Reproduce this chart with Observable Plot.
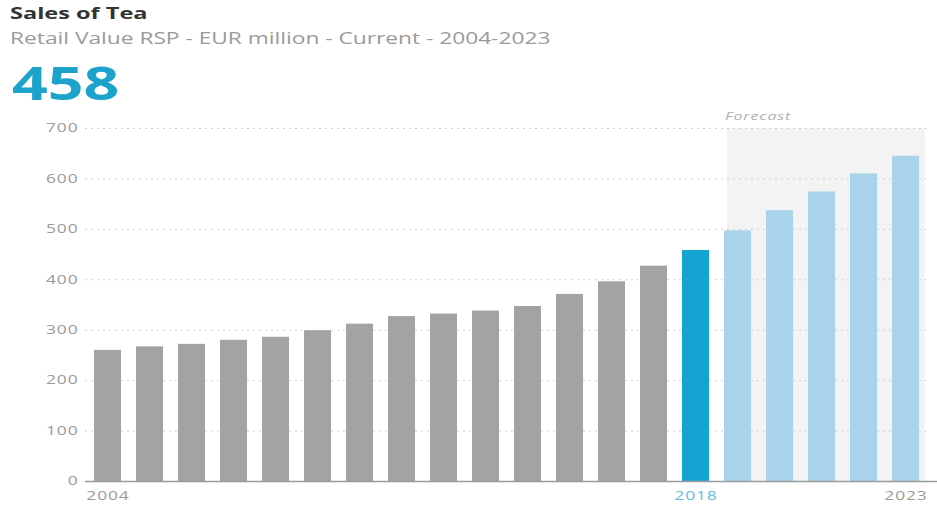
<!DOCTYPE html>
<html>
<head>
<meta charset="utf-8">
<script src="https://cdn.jsdelivr.net/npm/d3@7"></script>
<script src="https://cdn.jsdelivr.net/npm/@observablehq/plot@0.6"></script>
<style>
  html, body { margin: 0; padding: 0; background: #fff; }
  body { width: 937px; height: 509px; overflow: hidden; font-family: "Open Sans", sans-serif; }
  #header { position: relative; height: 100px; }
  #header div { position: absolute; white-space: nowrap; transform-origin: left top; }
  #title { left: 10px; top: 2px; font-size: 16px; font-weight: 700; color: #333; transform: scaleX(1.47); }
  #subtitle { left: 10px; top: 27px; font-size: 16px; color: #9a9a9a; transform: scaleX(1.42); }
  #big { left: 12px; top: 57px; font-size: 46px; font-weight: 700; color: #1ba3cb; transform: scaleX(1.36); line-height: 1.1; }
  #chart svg text { letter-spacing: 0.6px; }
</style>
</head>
<body>
<div id="header">
  <div id="title">Sales of Tea</div>
  <div id="subtitle">Retail Value RSP - EUR million - Current - 2004-2023</div>
  <div id="big">458</div>
</div>
<div id="chart"></div>
<script>
const years = ["2004","2005","2006","2007","2008","2009","2010","2011","2012","2013","2014","2015","2016","2017","2018","2019","2020","2021","2022","2023"];
const values = [260, 267, 272, 280, 286, 299, 312, 327, 332, 338, 347, 371, 396, 427, 458, 497, 537, 574, 610, 645];
const currentYear = "2018";
const forecastYears = ["2019","2020","2021","2022","2023"];
const yTicks = [0, 100, 200, 300, 400, 500, 600, 700];
const xTickLabels = ["2004", "2018", "2023"];
const forecastLabel = "Forecast";

const data = years.map((y, i) => ({
  year: y,
  value: values[i],
  kind: y === currentYear ? "current" : (forecastYears.includes(y) ? "forecast" : "historic")
}));
const colorOf = {historic: "#a1a3a5", current: "#14a4d2", forecast: "#a8d3ea"};
const lastYear = years[years.length - 1];

const chart = Plot.plot({
  width: 937,
  height: 409,
  marginTop: 28,
  marginBottom: 28,
  marginLeft: 85,
  marginRight: 8,
  style: {fontFamily: "Open Sans, sans-serif", fontSize: "12px", background: "#fff", overflow: "visible"},
  x: {type: "band", domain: years, paddingInner: 0.35, paddingOuter: 0.175, axis: null},
  y: {domain: [0, 700], axis: null},
  marks: [
    Plot.barY(forecastYears.filter(y => y !== lastYear).map(y => ({year: y})), {
      x: "year", y1: 0, y2: 700, fill: "#f3f3f3", insetLeft: 3, insetRight: -19
    }),
    Plot.barY([{year: lastYear}], {
      x: "year", y1: 0, y2: 700, fill: "#f3f3f3", insetLeft: 3, insetRight: -6
    }),
    Plot.gridY(yTicks.filter(t => t > 0), {stroke: "#d0d0d0", strokeOpacity: 1, strokeDasharray: "2,4"}),
    Plot.axisY(yTicks, {tickSize: 0, tickPadding: 7, fill: "#9a9a9a", label: null, fontSize: 12}),
    Plot.barY(data, {x: "year", y: "value", fill: d => colorOf[d.kind]}),
    Plot.ruleY([0], {stroke: "#9a9a9a", strokeWidth: 1.5, insetRight: -8}),
    Plot.text(xTickLabels, {
      x: d => d, y: 0, dy: 15, fill: d => d === currentYear ? "#5bbfdc" : "#9a9a9a", fontSize: 12
    }),
    Plot.text([forecastYears[0]], {
      x: d => d, y: 700, dy: -12, dx: -13, textAnchor: "start", text: () => forecastLabel,
      fill: "#b0b0b0", fontStyle: "italic", fontSize: 11
    })
  ]
});
// widen the glyphs horizontally around each text's own anchor, like the reference
chart.querySelectorAll("text").forEach(t => {
  const tr = t.getAttribute("transform");
  if (tr) t.setAttribute("transform", `${tr} scale(1.45,1)`);
});
document.getElementById("chart").appendChild(chart);
</script>
</body>
</html>
